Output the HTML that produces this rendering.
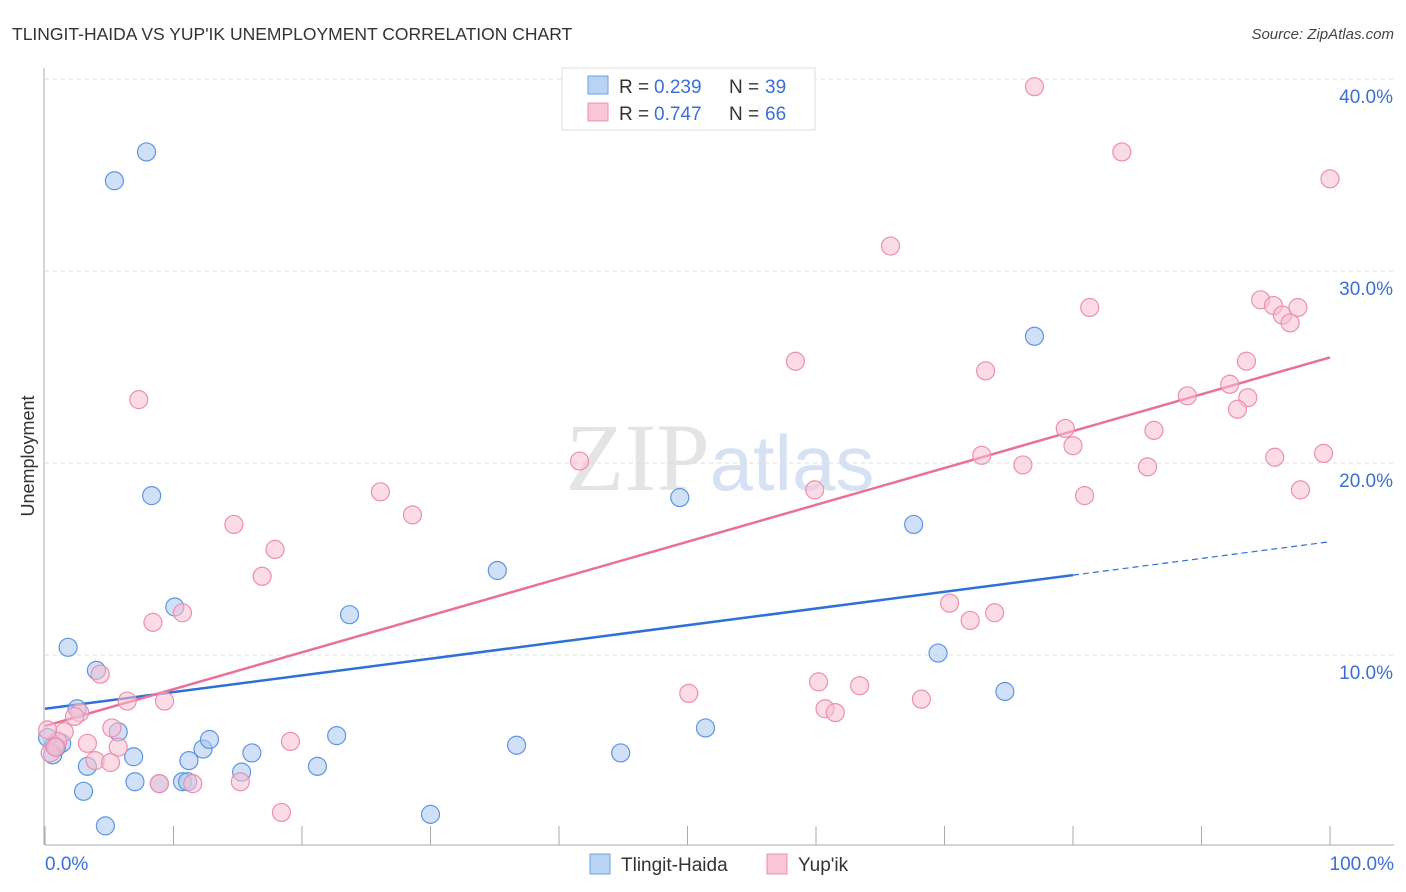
<!DOCTYPE html>
<html><head><meta charset="utf-8"><style>
body{margin:0;background:#fff;font-family:"Liberation Sans",sans-serif;}
</style></head><body>
<svg id="chart" width="1406" height="892" xmlns="http://www.w3.org/2000/svg" style="display:block">
<text x="12" y="40" font-size="17.5" fill="#333" font-family="Liberation Sans, sans-serif">TLINGIT-HAIDA VS YUP'IK UNEMPLOYMENT CORRELATION CHART</text>
<text x="1394" y="39" font-size="15" fill="#444" text-anchor="end" font-style="italic">Source: ZipAtlas.com</text>
<text x="720" y="490" font-size="96" fill="#e4e4e4" text-anchor="middle" font-family="Liberation Serif, serif">ZIP<tspan fill="#d6e2f3" font-family="Liberation Sans, sans-serif" font-size="78">atlas</tspan></text>
<text transform="translate(34,456) rotate(-90)" font-size="18" fill="#333" text-anchor="middle">Unemployment</text>
<g id="grid"></g><g id="axes"></g><g id="trend"></g><g id="pts"></g>
<g>
<rect x="562" y="68" width="253" height="62" fill="#fff" stroke="#ddd"/>
<rect x="588" y="76" width="20" height="18" fill="#b9d3f4" stroke="#6fa0e0"/>
<rect x="588" y="103" width="20" height="18" fill="#f8c6d6" stroke="#ec8fae"/>
<text x="619" y="93" font-size="19" fill="#333">R =</text>
<text x="654" y="93" font-size="19" fill="#3a6fd8">0.239</text>
<text x="729" y="93" font-size="19" fill="#333">N =</text>
<text x="765" y="93" font-size="19" fill="#3a6fd8">39</text>
<text x="619" y="120" font-size="19" fill="#333">R =</text>
<text x="654" y="120" font-size="19" fill="#3a6fd8">0.747</text>
<text x="729" y="120" font-size="19" fill="#333">N =</text>
<text x="765" y="120" font-size="19" fill="#3a6fd8">66</text>
</g>
<g>
<rect x="590" y="854" width="20" height="20" fill="#b9d3f4" stroke="#6fa0e0"/>
<text x="621" y="871" font-size="19" fill="#333">Tlingit-Haida</text>
<rect x="767" y="854" width="20" height="20" fill="#f8c6d6" stroke="#ec8fae"/>
<text x="798" y="871" font-size="19" fill="#333">Yup'ik</text>
</g>
</svg>
<script>
const blueX=[5.4,7.9,8.3,1.8,4.0,10.1,23.7,35.2,49.4,67.6,77.0,69.5,74.7,2.5,1.3,0.7,0.6,5.7,3.3,6.9,3.0,4.7,7.0,11.2,12.3,12.8,16.1,15.3,10.7,11.1,21.2,22.7,30.0,36.7,44.8,51.4,8.9,0.2,0.9];
const blueY=[34.7,36.2,18.3,10.4,9.2,12.5,12.1,14.4,18.2,16.8,26.6,10.1,8.1,7.2,5.4,5.3,4.8,6.0,4.2,4.7,2.9,1.1,3.4,4.5,5.1,5.6,4.9,3.9,3.4,3.4,4.2,5.8,1.7,5.3,4.9,6.2,3.3,5.7,5.2];
const pinkX=[77.0,83.8,100,65.8,81.3,94.6,95.6,96.3,96.9,97.5,58.4,73.2,93.5,88.9,92.2,93.6,92.8,79.4,86.3,80.0,72.9,76.1,85.8,95.7,99.5,80.9,97.7,59.9,41.6,26.1,28.6,14.7,17.9,16.9,7.3,8.4,10.7,70.4,72.0,73.9,60.2,63.4,50.1,60.7,61.5,68.2,6.4,9.3,4.3,2.7,2.3,1.5,5.2,3.3,5.7,3.9,5.1,1.0,0.2,0.4,19.1,15.2,8.9,11.5,18.4,0.8];
const pinkY=[39.6,36.2,34.8,31.3,28.1,28.5,28.2,27.7,27.3,28.1,25.3,24.8,25.3,23.5,24.1,23.4,22.8,21.8,21.7,20.9,20.4,19.9,19.8,20.3,20.5,18.3,18.6,18.6,20.1,18.5,17.3,16.8,15.5,14.1,23.3,11.7,12.2,12.7,11.8,12.2,8.6,8.4,8.0,7.2,7.0,7.7,7.6,7.6,9.0,7.0,6.8,6.0,6.2,5.4,5.2,4.5,4.4,5.5,6.1,4.9,5.5,3.4,3.3,3.3,1.8,5.2];
const yTicks=[10,20,30,40];
const yTickLabels=["10.0%","20.0%","30.0%","40.0%"];
const xTicks=[0,10,20,30,40,50,60,70,80,90,100];
const blueTrend=[7.2,15.9];
const blueSolidEnd=80;
const pinkTrend=[6.3,25.5];
const NS="http://www.w3.org/2000/svg";
const sx=v=>45+v*12.85, sy=v=>847-v*19.2;
function mk(tag,attrs,parent){const e=document.createElementNS(NS,tag);for(const k in attrs)e.setAttribute(k,attrs[k]);document.getElementById(parent).appendChild(e);return e;}
yTicks.forEach((t,i)=>{
 const l=mk('line',{x1:45,x2:1394,y1:sy(t),y2:sy(t),stroke:'#ddd','stroke-dasharray':'4,4'},'grid');
 
 
 const tx=mk('text',{x:1393,y:sy(t)+24,'font-size':19,fill:'#3a6fd8','text-anchor':'end'},'grid');
 tx.textContent=yTickLabels[i];
 
 
});
const ax=mk('line',{x1:45,x2:1394,y1:845,y2:845,stroke:'#aaa'},'axes');


const ay=mk('line',{x1:44,x2:44,y1:68,y2:845,stroke:'#aaa'},'axes');


xTicks.forEach(t=>{const l=mk('line',{x1:sx(t),x2:sx(t),y1:826,y2:845,stroke:'#aaa'},'axes');
 
 });
const x0=mk('text',{x:45,y:870,'font-size':19,fill:'#3a6fd8'},'axes');x0.textContent='0.0%';


const x1=mk('text',{x:1394,y:870,'font-size':19,fill:'#3a6fd8','text-anchor':'end'},'axes');x1.textContent='100.0%';


function drawPts(xs,ys,fill,stroke,name){xs.forEach((x,i)=>{const c=mk('circle',{cx:sx(x),cy:sy(ys[i]),r:9,fill:fill,'fill-opacity':0.55,stroke:stroke,'stroke-width':1.2},'pts');
 
 });}
drawPts(blueX,blueY,'#a9c8f0','#5f95e0','tlingit-haida-point');
drawPts(pinkX,pinkY,'#f7bfd2','#ec8fae','yupik-point');
const bt=v=>blueTrend[0]+(blueTrend[1]-blueTrend[0])*v/100;
const b1=mk('line',{x1:sx(0),y1:sy(bt(0)),x2:sx(blueSolidEnd),y2:sy(bt(blueSolidEnd)),stroke:'#2f6fd6','stroke-width':2.5},'trend');


const b2=mk('line',{x1:sx(blueSolidEnd),y1:sy(bt(blueSolidEnd)),x2:sx(100),y2:sy(bt(100)),stroke:'#2f6fd6','stroke-width':1.2,'stroke-dasharray':'6,4'},'trend');


const p1=mk('line',{x1:sx(0),y1:sy(pinkTrend[0]),x2:sx(100),y2:sy(pinkTrend[1]),stroke:'#e8709a','stroke-width':2.5},'trend');


</script>
</body></html>
